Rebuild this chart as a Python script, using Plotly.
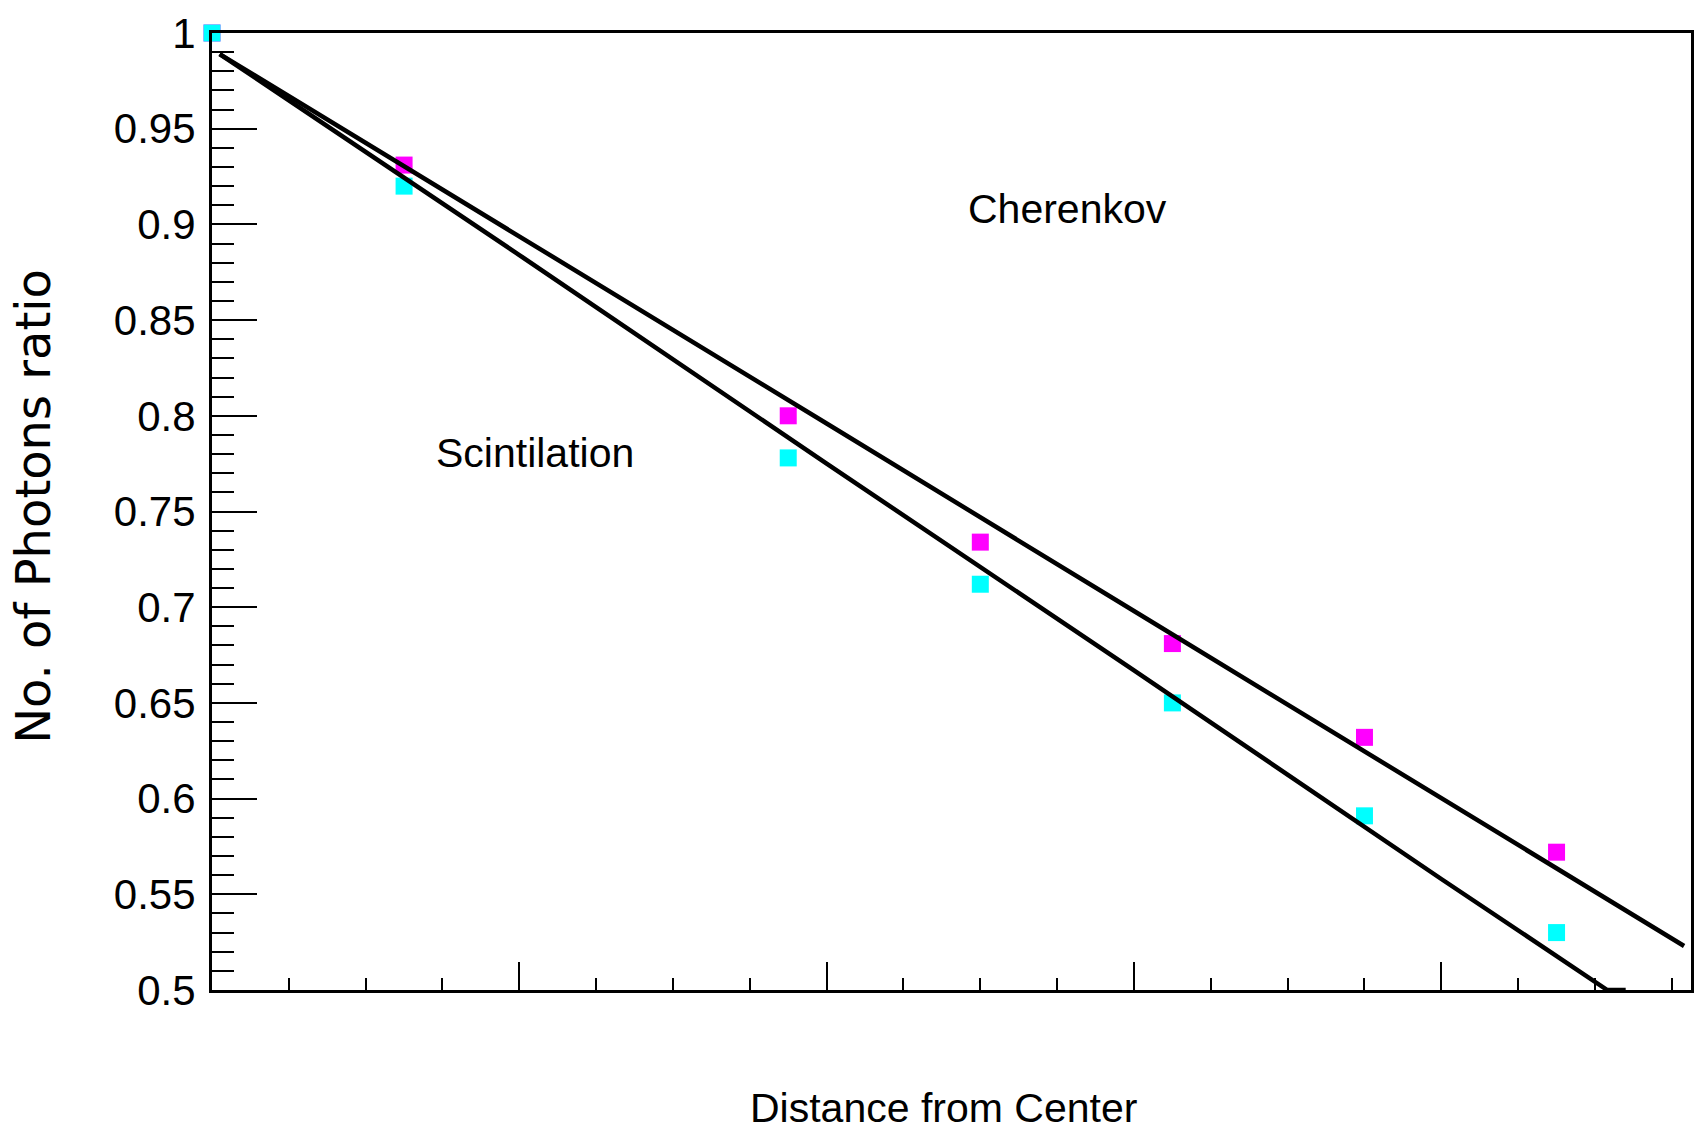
import plotly.graph_objects as go

# Data
distance = [0, 25, 75, 100, 125, 150, 175]
cherenkov_pts = [1.0, 0.931, 0.800, 0.734, 0.681, 0.632, 0.572]
scint_pts = [1.0, 0.920, 0.778, 0.712, 0.650, 0.591, 0.530]

cher_line_x = [1.0, 40, 80, 120, 160, 191.6]
cher_line_y = [0.989, 0.894, 0.796, 0.698, 0.600, 0.523]
scint_line_x = [1.0, 40, 80, 120, 160, 181.6, 184]
scint_line_y = [0.989, 0.884, 0.775, 0.667, 0.558, 0.5, 0.5]

SANS = "Liberation Sans, Arial, Helvetica, sans-serif"
WIDE = "DejaVu Sans, Verdana, sans-serif"

fig = go.Figure()
fig.add_trace(go.Scatter(x=distance, y=cherenkov_pts, mode="markers",
                         marker=dict(symbol="square", size=17, color="#ff00ff"),
                         cliponaxis=False, showlegend=False))
fig.add_trace(go.Scatter(x=distance, y=scint_pts, mode="markers",
                         marker=dict(symbol="square", size=17, color="#00ffff"),
                         cliponaxis=False, showlegend=False))
fig.add_trace(go.Scatter(x=cher_line_x, y=cher_line_y, mode="lines",
                         line=dict(color="black", width=4.5), showlegend=False))
fig.add_trace(go.Scatter(x=scint_line_x, y=scint_line_y, mode="lines",
                         line=dict(color="black", width=4.5), showlegend=False))

fig.update_layout(
    width=1696, height=1144,
    margin=dict(l=212, r=2, t=33, b=154),
    paper_bgcolor="white", plot_bgcolor="white",
    font=dict(family=SANS, size=41, color="black"),
    xaxis=dict(range=[0, 192.5], showgrid=False, zeroline=False,
               showline=True, linecolor="black", linewidth=3, mirror=True,
               ticks="inside", dtick=40, tick0=0, ticklen=28, tickwidth=2, tickcolor="black",
               showticklabels=False,
               minor=dict(dtick=10, ticks="inside", ticklen=12, tickwidth=2, tickcolor="black")),
    yaxis=dict(range=[0.5, 1.0], showgrid=False, zeroline=False,
               showline=True, linecolor="black", linewidth=3, mirror=True,
               ticks="inside", dtick=0.05, tick0=0.5, ticklen=45, tickwidth=2, tickcolor="black",
               ticklabelstandoff=5,
               tickfont=dict(family=SANS, size=42, color="black"),
               minor=dict(dtick=0.01, ticks="inside", ticklen=22, tickwidth=2, tickcolor="black")),
    annotations=[
        dict(text="Cherenkov", x=111.4, y=0.908, xref="x", yref="y", showarrow=False,
             xanchor="center", yanchor="middle", font=dict(family=SANS, size=41)),
        dict(text="Scintilation", x=42.1, y=0.7806, xref="x", yref="y", showarrow=False,
             xanchor="center", yanchor="middle", font=dict(family=SANS, size=41)),
        dict(text="Distance from Center", x=0.4946, y=-0.1233, xref="paper", yref="paper",
             showarrow=False, xanchor="center", yanchor="middle",
             font=dict(family=SANS, size=41)),
        dict(text="No. of Photons ratio", x=-0.1215, y=0.5052, xref="paper", yref="paper",
             showarrow=False, xanchor="center", yanchor="middle", textangle=-90,
             font=dict(family=WIDE, size=48)),
    ],
)

fig.write_html("out.html", config={"displayModeBar": False},
               post_script="document.body.style.margin='0px';document.body.style.padding='0px';")
